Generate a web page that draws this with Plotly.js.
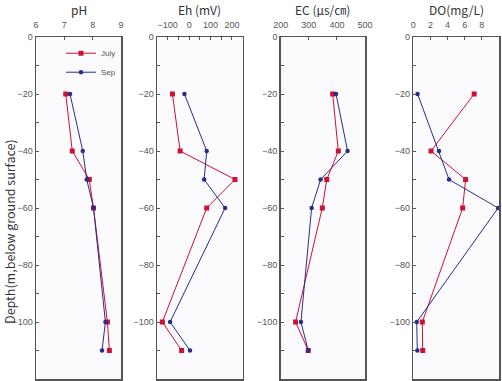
<!DOCTYPE html>
<html>
<head>
<meta charset="utf-8">
<script src="https://cdn.plot.ly/plotly-3.0.1.min.js"></script>
<style>html,body{margin:0;padding:0;background:#fff;}#chart{width:502px;height:381px;}</style>
</head>
<body>
<div id="chart"></div>
<script>
// Depths (m below ground surface)
const depth = [-20, -40, -50, -60, -100, -110];

// pH
const phJuly = [7.05, 7.28, 7.88, 8.03, 8.52, 8.59];
const phSep  = [7.20, 7.65, 7.79, 8.03, 8.45, 8.33];
// Eh (mV)
const ehJuly = [-78, -42, 214, 82, -125, -35];
const ehSep  = [-22, 82, 70, 168, -89, 4];
// EC (us/cm)
const ecJuly = [385, 405, 364, 348, 253, 298];
const ecSep  = [397, 438, 342, 310, 272, 298];
// DO (mg/L)
const doJuly = [7.1, 2.07, 6.1, 5.76, 1.05, 1.1];
const doSep  = [0.5, 3.0, 4.17, 9.9, 0.4, 0.47];

const panelTitles = ["pH", "Eh (mV)", "EC (\u03bcs/\u339d)", "DO(mg/L)"];
const seriesNames = ["July", "Sep"];

const yTickVals = [0,-10,-20,-30,-40,-50,-60,-70,-80,-90,-100,-110,-120];
const yTickText = yTickVals.map(v => (v % 20 === 0) ? (v === 0 ? "0" : "\u2212" + Math.abs(v)) : "");

const red = "#cc1036", blue = "#2b2b8c";
const W = 502;
const domains = [[36/W,121/W],[157/W,242.7/W],[280.7/W,365/W],[413.3/W,499/W]];

const data = [
  [phJuly, phSep], [ehJuly, ehSep], [ecJuly, ecSep], [doJuly, doSep]
];
const traces = [];
data.forEach((pair, i) => {
  const xa = i === 0 ? "x" : "x" + (i+1);
  const ya = i === 0 ? "y" : "y" + (i+1);
  pair.forEach((vals, j) => {
    traces.push({
      x: vals, y: depth, xaxis: xa, yaxis: ya, type: "scatter", mode: "lines+markers",
      name: seriesNames[j], showlegend: i === 0,
      line: {color: j === 0 ? red : blue, width: 1},
      marker: {color: j === 0 ? red : blue, size: j === 0 ? 5 : 4.5, symbol: j === 0 ? "square" : "circle"}
    });
  });
});

const xCfg = [
  {range: [6, 9], tickvals: [6,7,8,9], ticktext: ["6","7","8","9"]},
  {range: [-150, 250], tickvals: [-150,-100,-50,0,50,100,150,200,250], ticktext: ["","\u2212100","","0","","100","","200",""]},
  {range: [200, 500], tickvals: [200,300,400,500], ticktext: ["200","300","400","500"]},
  {range: [0, 10], tickvals: [0,2,4,6,8,10], ticktext: ["0","2","4","6","8","10"]}
];

const tickFont = {family: "Liberation Sans, Arial, sans-serif", size: 9, color: "#555"};
const layout = {
  width: 502, height: 381,
  margin: {l: 0, r: 0, t: 37, b: 2},
  paper_bgcolor: "#ffffff",
  plot_bgcolor: "#fbfbfd",
  showlegend: true,
  legend: {x: 121/W, xanchor: "right", y: 0.995, yanchor: "top", bgcolor: "rgba(0,0,0,0)",
           font: {family: "Liberation Sans, Arial, sans-serif", size: 8, color: "#555"},
           itemwidth: 30, tracegroupgap: 0},
  annotations: [],
  font: tickFont
};

for (let i = 0; i < 4; i++) {
  const sfx = i === 0 ? "" : String(i+1);
  layout["xaxis" + sfx] = {
    domain: domains[i], anchor: "y" + sfx, side: "top",
    range: xCfg[i].range, tickmode: "array", tickvals: xCfg[i].tickvals, ticktext: xCfg[i].ticktext,
    ticks: "inside", ticklen: 3, tickwidth: 1, tickcolor: "#555", ticklabelstandoff: 4,
    showline: true, linecolor: "#555", linewidth: 1.5, mirror: true,
    showgrid: false, zeroline: false, tickfont: tickFont, fixedrange: true
  };
  layout["yaxis" + sfx] = {
    domain: [0, 1], anchor: "x" + sfx,
    range: [-120, 0], tickmode: "array", tickvals: yTickVals, ticktext: yTickText,
    ticks: "inside", ticklen: 3, tickwidth: 1, tickcolor: "#555",
    showline: true, linecolor: "#555", linewidth: 1.5, mirror: true,
    showgrid: false, zeroline: false, tickfont: tickFont, fixedrange: true
  };
  layout.annotations.push({
    text: panelTitles[i], xref: "x" + sfx + " domain", x: 0.5, yref: "paper", y: 1,
    yanchor: "bottom", yshift: 17, showarrow: false,
    font: {family: "Noto Sans CJK KR, Noto Sans, sans-serif", size: 12, color: "#333"}
  });
}
layout.annotations.push({
  text: "Depth(m,below ground surface)", xref: "paper", x: 10/W, yref: "paper", y: 0.43,
  textangle: -90, showarrow: false, xanchor: "center", yanchor: "middle",
  font: {family: "Noto Sans CJK KR, Noto Sans, sans-serif", size: 12.5, color: "#333"}
});

Plotly.newPlot("chart", traces, layout, {displayModeBar: false, staticPlot: true});
</script>
</body>
</html>
